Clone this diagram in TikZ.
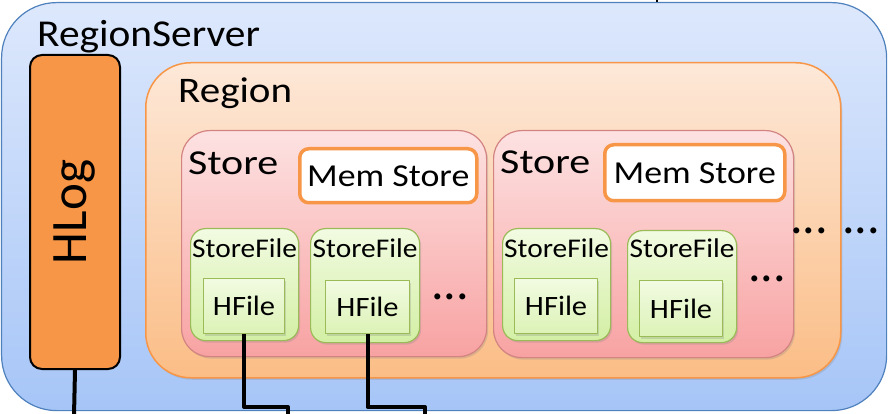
\documentclass[tikz,border=0pt]{standalone}
\usepackage{fontspec}
\setmainfont{Carlito}
\usetikzlibrary{shapes, calc, positioning, shadows}

\definecolor{rsline}{HTML}{4F81BD}
\definecolor{rstop}{HTML}{DDE8FC}
\definecolor{rsbot}{HTML}{A6C5F7}
\definecolor{rgline}{HTML}{F79646}
\definecolor{rgtop}{HTML}{FDE8D8}
\definecolor{rgbot}{HTML}{FBBD86}
\definecolor{stline}{HTML}{C0504D}
\definecolor{sttop}{HTML}{FDE2E2}
\definecolor{stbot}{HTML}{F8A2A2}
\definecolor{sfline}{HTML}{9BBB59}
\definecolor{sftop}{HTML}{F2FBE2}
\definecolor{sfbot}{HTML}{D3EFA4}

\begin{document}
\begin{tikzpicture}[x=1pt, y=-1pt, line join=round]
	\tikzstyle{box} = [rectangle, anchor=north west, inner sep=0pt]
	\tikzstyle{shade} = [drop shadow={opacity=0.25, shadow xshift=1.5pt, shadow yshift=-2pt}]
	\tikzstyle{serverbox} = [box, draw=rsline, line width=1.2pt, rounded corners=55pt, top color=rstop, bottom color=rsbot]
	\tikzstyle{hlogbox} = [box, draw=black, line width=2pt, rounded corners=12pt, fill=rgline]
	\tikzstyle{regionbox} = [box, shade, draw=rgline, line width=1.5pt, rounded corners=45pt, top color=rgtop, bottom color=rgbot]
	\tikzstyle{storebox} = [box, shade, draw=stline!70, line width=1.2pt, rounded corners=28pt, top color=sttop, bottom color=stbot]
	\tikzstyle{membox} = [box, draw=rgline, line width=3.5pt, rounded corners=9pt, fill=white]
	\tikzstyle{memtext} = [inner sep=0pt, xscale=1.12, font=\fontsize{32}{32}\selectfont]
	\tikzstyle{sfbox} = [box, shade, draw=sfline, line width=1.2pt, rounded corners=15pt, top color=sftop, bottom color=sfbot]
	\tikzstyle{hfbox} = [box, shade, draw=sfline, line width=1.2pt, top color=sftop, bottom color=sfbot!80]
	\tikzstyle{hftext} = [inner sep=0pt, xscale=1.09, font=\fontsize{28}{28}\selectfont]
	\tikzstyle{title} = [anchor=base west, inner sep=0pt]
	\tikzstyle{sftitle} = [anchor=base, inner sep=0pt, xscale=1.09, font=\fontsize{27}{27}\selectfont]
	\tikzstyle{dots} = [inner sep=0pt, font=\fontsize{50}{50}\selectfont]
	\tikzstyle{wire} = [line width=4pt, black]

	\useasboundingbox (0,0) rectangle (894,414);

	% RegionServer and HLog
	\node[serverbox, minimum width=885pt, minimum height=408pt] (server) at (1,2) {};
	\node[title, xscale=1.09, font=\fontsize{38}{38}\selectfont] (servertitle) at (37,47) {RegionServer};
	\node[hlogbox, minimum width=90pt, minimum height=314pt] (hlog) at (29,54) {};
	\node[rotate=90, inner sep=0pt, font=\fontsize{51}{51}\selectfont] (hlogtext) at (hlog.center) {HLog};

	% Region
	\node[regionbox, minimum width=695pt, minimum height=315pt] (region) at (145,62) {};
	\node[title, xscale=1.14, font=\fontsize{36}{36}\selectfont] (regiontitle) at (178,103) {Region};

	% first Store
	\node[storebox, minimum width=305pt, minimum height=226pt] (store1) at (181,130) {};
	\node[title, xscale=1.2, font=\fontsize{35}{35}\selectfont] (store1title) at (188,175) {Store};
	\node[membox, minimum width=177pt, minimum height=54pt] (mem1) at (298,147) {};
	\node[memtext] (mem1text) at (mem1.center) {Mem Store};
	\node[sfbox, minimum width=108pt, minimum height=112pt] (sf1a) at (190,228) {};
	\node[sftitle] (sf1atitle) at ($(sf1a.north)+(0,29)$) {StoreFile};
	\node[hfbox, minimum width=81pt, minimum height=55pt] (hf1a) at (203,278) {};
	\node[hftext] (hf1atext) at (hf1a.center) {HFile};
	\node[sfbox, minimum width=109pt, minimum height=114pt] (sf1b) at (310,228) {};
	\node[sftitle] (sf1btitle) at ($(sf1b.north)+(0,29)$) {StoreFile};
	\node[hfbox, minimum width=84pt, minimum height=53pt] (hf1b) at (325,280) {};
	\node[hftext] (hf1btext) at (hf1b.center) {HFile};
	\node[dots] (dots1) at (450,297) {...};

	% second Store
	\node[storebox, minimum width=300pt, minimum height=227pt] (store2) at (493,130) {};
	\node[title, xscale=1.2, font=\fontsize{35}{35}\selectfont] (store2title) at (500,174) {Store};
	\node[membox, minimum width=180pt, minimum height=56pt] (mem2) at (603,143) {};
	\node[memtext] (mem2text) at (mem2.center) {Mem Store};
	\node[sfbox, minimum width=108pt, minimum height=112pt] (sf2a) at (502,228) {};
	\node[sftitle] (sf2atitle) at ($(sf2a.north)+(0,29)$) {StoreFile};
	\node[hfbox, minimum width=83pt, minimum height=55pt] (hf2a) at (514,278) {};
	\node[hftext] (hf2atext) at (hf2a.center) {HFile};
	\node[sfbox, minimum width=109pt, minimum height=112pt] (sf2b) at (627,230) {};
	\node[sftitle] (sf2btitle) at ($(sf2b.north)+(0,28)$) {StoreFile};
	\node[hfbox, minimum width=83pt, minimum height=56pt] (hf2b) at (639,280) {};
	\node[hftext] (hf2btext) at (hf2b.center) {HFile};
	\node[dots] (dots2) at (767,279) {...};

	\node[dots] (dots3) at (809,231) {...};
	\node[dots] (dots4) at (861,231) {...};

	% wires leaving the picture
	\coordinate (hlogout) at (74,416);
	\coordinate (bend1) at (288,407);
	\coordinate (out1) at (288,416);
	\coordinate (bend2) at (425,407);
	\coordinate (out2) at (425,416);
	\coordinate (topin) at (657,-2);

	\draw[wire] (hlog.south) -- (hlogout);
	\draw[wire] (hf1a.south) |- (bend1) -- (out1);
	\draw[wire] (hf1b.south) |- (bend2) -- (out2);
	\draw[wire, line width=2pt] (topin) -- (topin |- server.north);
\end{tikzpicture}
\end{document}
